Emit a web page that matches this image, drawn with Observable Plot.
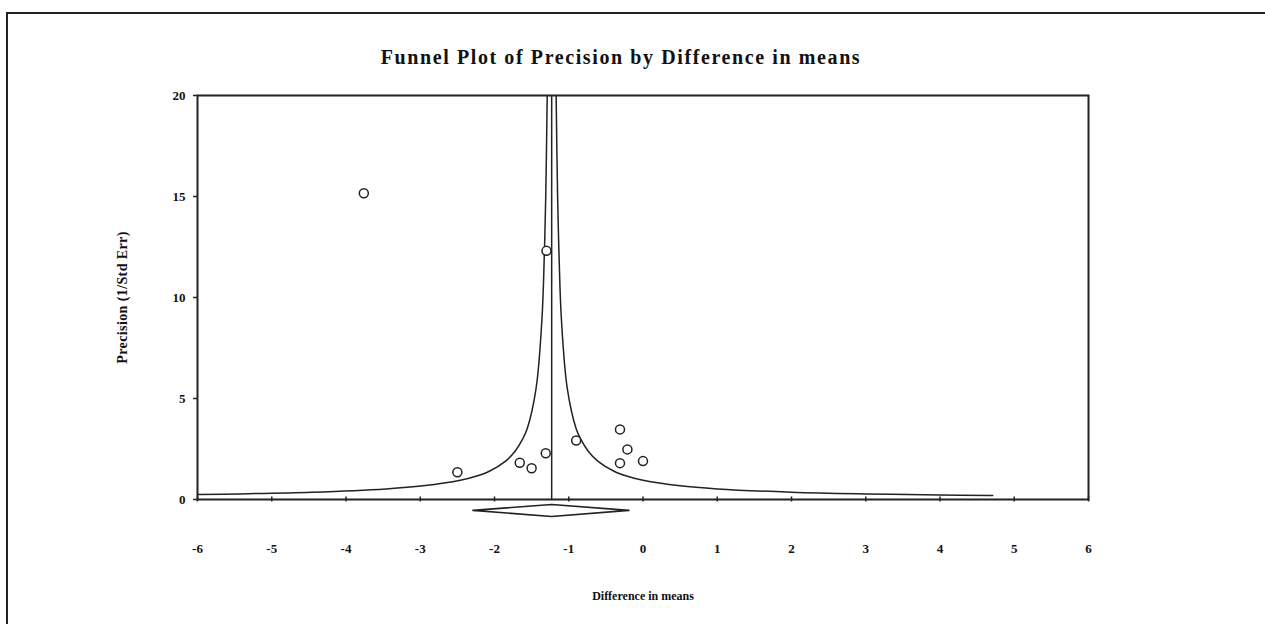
<!DOCTYPE html>
<html>
<head>
<meta charset="utf-8">
<script src="https://cdn.jsdelivr.net/npm/d3@7"></script>
<script src="https://cdn.jsdelivr.net/npm/@observablehq/plot@0.6"></script>
<style>
  body { margin: 0; background: #fff; }
  #wrap { position: relative; width: 1265px; height: 624px; overflow: hidden; background: #fff; }
  #border { position: absolute; left: 6px; top: 12px; width: 1259px; height: 612px; border-top: 2px solid #222; border-left: 2px solid #222; box-sizing: border-box; }
  #title { position: absolute; left: 0; top: 46px; width: 1242px; text-align: center; font-family: "Liberation Serif", serif; font-weight: bold; font-size: 20px; letter-spacing: 1.6px; color: #111; }
  #chart { position: absolute; left: 0; top: 75px; }
  g[aria-label="y-axis label"] text { font-size: 14px; letter-spacing: 0.4px; }
  g[aria-label="x-axis label"] text { font-size: 12px; }
  g[aria-label="x-axis tick label"] text, g[aria-label="y-axis tick label"] text { font-size: 13px; }
</style>
</head>
<body>
<div id="wrap">
  <div id="border"></div>
  <div id="title">Funnel Plot of Precision by Difference in means</div>
  <div id="chart"></div>
</div>
<script>
// Studies: difference in means and precision (1/SE)
const studyDiff = [-3.76, -1.30, -2.50, -1.66, -1.50, -1.31, -0.90, -0.31, -0.21, -0.31, 0.00];
const studyPrec = [15.16, 12.31, 1.35, 1.82, 1.55, 2.29, 2.92, 3.47, 2.48, 1.80, 1.90];

// Pooled estimate and its confidence interval (diamond)
const pooledMean = [-1.23];
const ciLow = -2.29, ciHigh = -0.19;
const diamondMid = -0.54, diamondTop = -0.25, diamondBottom = -0.84;

// Funnel boundary lines
const funnelRightX = [-1.17, -1.15, -1.13, -1.10, -1.02, -0.90, -0.84, -0.74, -0.61, -0.39, -0.21, 0.00, 0.50, 1.00, 2.00, 3.00, 4.00, 4.71];
const funnelRightY = [20, 15, 12, 9, 5.5, 3.5, 3.0, 2.4, 1.9, 1.4, 1.15, 0.95, 0.676, 0.525, 0.362, 0.277, 0.224, 0.197];
const funnelLeftX = [-1.29, -1.31, -1.33, -1.36, -1.44, -1.56, -1.62, -1.72, -1.85, -2.07, -2.25, -2.46, -2.96, -3.46, -4.46, -5.46, -6.00];
const funnelLeftY = [20, 15, 12, 9, 5.5, 3.5, 3.0, 2.4, 1.9, 1.4, 1.15, 0.95, 0.676, 0.525, 0.362, 0.277, 0.245];

const xTicks = [-6, -5, -4, -3, -2, -1, 0, 1, 2, 3, 4, 5, 6];
const yTicks = [0, 5, 10, 15, 20];

const studies = studyDiff.map((d, i) => ({x: d, y: studyPrec[i]}));
const funnel = [
  ...funnelLeftX.map((x, i) => ({x, y: funnelLeftY[i], side: "L"})),
  ...funnelRightX.map((x, i) => ({x, y: funnelRightY[i], side: "R"}))
];
const diamond = [
  {x: ciLow, y: diamondMid},
  {x: pooledMean[0], y: diamondTop},
  {x: ciHigh, y: diamondMid},
  {x: pooledMean[0], y: diamondBottom},
  {x: ciLow, y: diamondMid}
];

const ink = "#222";
const fmt = d => String(d);
const plot = Plot.plot({
  width: 1265,
  height: 549,
  marginTop: 20,
  marginBottom: 125,
  marginLeft: 197,
  marginRight: 177,
  style: {fontFamily: "'Liberation Serif', serif", fontWeight: "bold", fontSize: "12px", color: "#111", background: "transparent"},
  x: {domain: [-6, 6]},
  y: {domain: [0, 20]},
  marks: [
    Plot.line(funnel, {x: "x", y: "y", z: "side", stroke: ink, strokeWidth: 1.5, curve: "catmull-rom"}),
    Plot.ruleX(pooledMean, {stroke: ink, strokeWidth: 1.5}),
    Plot.line(diamond, {x: "x", y: "y", stroke: ink, strokeWidth: 1.6}),
    Plot.dot(studies, {x: "x", y: "y", r: 4.5, stroke: ink, strokeWidth: 1.5, fill: "white"}),
    Plot.frame({stroke: ink, strokeWidth: 2}),
    Plot.axisX(xTicks, {anchor: "bottom", tickSize: 5, dy: -2.5, tickFormat: () => "", stroke: ink, strokeWidth: 1.5, label: null}),
    Plot.axisX(xTicks, {anchor: "bottom", tickSize: 0, tickPadding: 44, tickFormat: fmt, fontSize: 13, fontWeight: "bold", label: "Difference in means", labelAnchor: "center", labelOffset: 100, labelArrow: "none"}),
    Plot.axisY(yTicks, {anchor: "left", tickSize: 4, tickPadding: 8, tickFormat: fmt, stroke: ink, strokeWidth: 1.5, fontSize: 13, fontWeight: "bold", label: "Precision (1/Std Err)", labelAnchor: "center", labelOffset: 80, labelArrow: "none"})
  ]
});
document.getElementById("chart").appendChild(plot);
</script>
</body>
</html>
